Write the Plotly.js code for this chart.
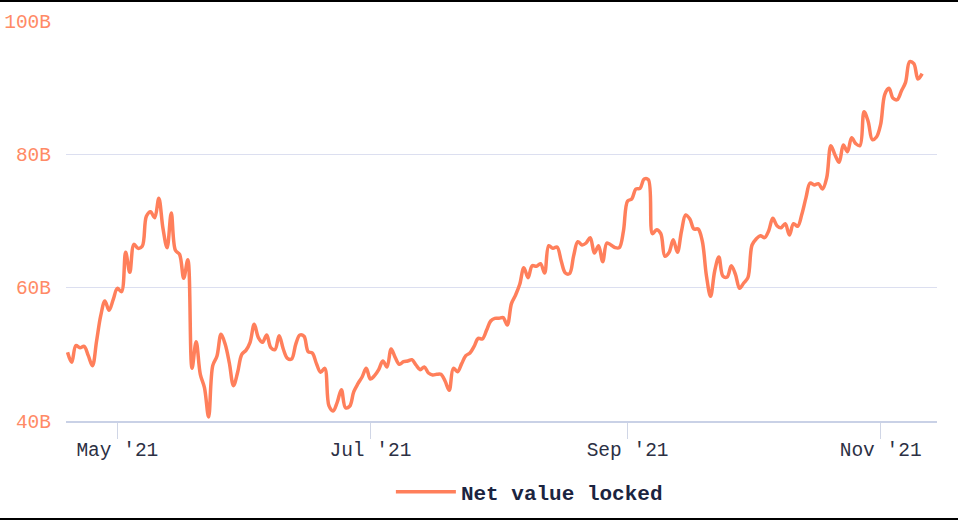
<!DOCTYPE html>
<html>
<head>
<meta charset="utf-8">
<script src="https://cdn.plot.ly/plotly-3.0.1.min.js"></script>
<style>
  html, body { margin: 0; padding: 0; background: #fff; }
  #wrap { position: relative; width: 958px; height: 520px; overflow: hidden; }
  #chart { width: 958px; height: 520px; }
  .bar { position: absolute; left: 0; width: 958px; height: 2px; background: #000; }
</style>
</head>
<body>
<div id="wrap">
  <div id="chart"></div>
  <div class="bar" style="top:0"></div>
  <div class="bar" style="bottom:0"></div>
</div>
<script>
// Daily series, first day 2021-04-19
const startDate = '2021-04-19';
const seriesName = 'Net value locked';
const netValueLocked = [
  50.3, 48.8, 51.3, 51.0, 51.2, 49.8, 48.3, 52.0, 55.8, 58.0, 56.6, 58.2,
  59.9, 59.4, 65.3, 62.3, 66.5, 65.9, 66.2, 70.7, 71.4, 70.5, 73.4, 68.9,
  66.0, 71.2, 65.6, 65.0, 61.4, 64.2, 47.9, 51.9, 47.0, 45.0, 40.6, 48.3,
  49.7, 53.0, 51.5, 48.7, 45.3, 47.3, 50.0, 50.6, 51.8, 54.5, 52.5, 51.8,
  52.9, 51.0, 50.7, 52.8, 50.8, 49.4, 49.3, 51.5, 52.9, 52.7, 50.4, 50.2,
  48.6, 47.3, 47.9, 42.3, 41.5, 42.8, 44.7, 42.0, 42.2, 44.4, 45.6, 46.6,
  47.9, 46.3, 46.8, 47.7, 49.0, 48.1, 50.8, 49.5, 48.5, 48.9, 49.0, 49.2,
  48.4, 47.7, 48.1, 47.2, 46.9, 47.0, 47.0, 46.0, 44.6, 47.9, 47.4, 48.6,
  49.8, 50.2, 51.2, 52.4, 52.3, 53.6, 55.0, 55.4, 55.4, 55.5, 54.4, 57.6,
  58.9, 60.5, 63.0, 61.5, 63.3, 63.2, 63.6, 62.2, 66.3, 65.9, 66.1, 64.0,
  62.2, 62.1, 64.8, 66.9, 66.4, 66.7, 67.5, 65.2, 66.3, 63.9, 66.7, 66.4,
  66.0, 66.0, 68.5, 73.0, 73.3, 74.8, 74.9, 76.3, 76.2, 68.1, 68.7, 68.1,
  64.7, 65.3, 67.2, 65.3, 68.5, 70.9, 70.3, 68.8, 68.8, 67.0, 61.8, 58.7,
  62.5, 64.6, 61.7, 61.6, 63.3, 62.0, 59.9, 60.7, 61.5, 66.4, 67.3, 67.8,
  67.5, 68.5, 70.4, 69.3, 69.0, 69.6, 67.9, 69.6, 69.2, 71.0, 73.5, 75.7,
  75.4, 75.6, 74.8, 76.5, 81.3, 79.9, 78.8, 81.4, 80.4, 82.5, 81.6, 81.3,
  86.4, 84.9, 82.2, 82.6, 84.5, 89.0, 89.9, 88.4, 88.2, 89.5, 90.8, 93.9,
  93.6, 91.3, 92.1
];
const yTickVals = [40, 60, 80, 100];
const yTickText = ['40B', '60B', '80B', '100B'];

// build the daily calendar for the series
const dates = [];
(function () {
  const d0 = new Date(startDate + 'T00:00:00Z');
  for (let i = 0; i < netValueLocked.length; i++) {
    const d = new Date(d0.getTime() + i * 86400000);
    dates.push(d.toISOString().slice(0, 10));
  }
})();

const mono = '"Courier New", "Liberation Mono", monospace';

const trace = {
  type: 'scatter',
  mode: 'lines',
  name: seriesName,
  x: dates,
  y: netValueLocked,
  line: { color: '#ff7f5b', width: 3.5, shape: 'spline', smoothing: 1 },
  hoverinfo: 'x+y'
};

const layout = {
  width: 958,
  height: 520,
  margin: { l: 66, r: 21, t: 21, b: 99, autoexpand: false },
  paper_bgcolor: '#ffffff',
  plot_bgcolor: '#ffffff',
  showlegend: true,
  legend: {
    orientation: 'h',
    x: 0.373, xanchor: 'left',
    y: -0.178, yanchor: 'middle',
    itemwidth: 60,
    font: { family: mono, size: 21, color: '#1b2440', weight: 'bold' }
  },
  xaxis: {
    type: 'date',
    range: ['2021-04-18 15:00', '2021-11-14 14:00'],
    tick0: '2021-05-01',
    dtick: 'M2',
    tickformat: "%b '%y",
    ticks: 'outside',
    ticklen: 16,
    tickwidth: 1.5,
    tickcolor: '#d0d6e6',
    ticklabelstandoff: -6,
    showline: true,
    linecolor: '#c9d1e6',
    linewidth: 2,
    showgrid: false,
    zeroline: false,
    tickfont: { family: mono, size: 19.5, color: '#2c3044' }
  },
  yaxis: {
    range: [40, 100],
    tickvals: yTickVals,
    ticktext: yTickText,
    showgrid: true,
    gridcolor: '#dcdff0',
    gridwidth: 1.6,
    zeroline: false,
    showline: false,
    ticks: '',
    ticklabelstandoff: 14,
    tickfont: { family: mono, size: 19.5, color: '#ff8a66' }
  }
};

Plotly.newPlot('chart', [trace], layout, { displayModeBar: false, staticPlot: true });
</script>
</body>
</html>
